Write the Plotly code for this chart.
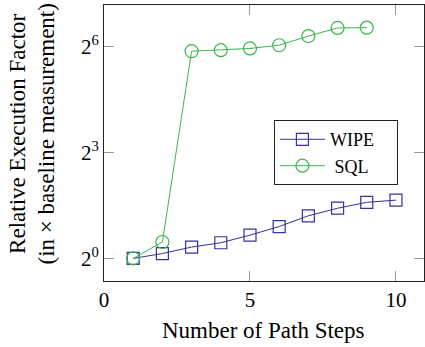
import plotly.graph_objects as go

steps_wipe = [1, 2, 3, 4, 5, 6, 7, 8, 9, 10]
wipe = [1.0, 1.10, 1.25, 1.36, 1.58, 1.87, 2.31, 2.68, 3.01, 3.14]
steps_sql = [1, 2, 3, 4, 5, 6, 7, 8, 9]
sql = [1.0, 1.38, 58.5, 59.7, 61.8, 65.8, 78.8, 92.4, 93.0]

series_names = ["WIPE\u2003", "\u2005SQL"]
y_tickvals = [1, 8, 64]
y_ticktext = ["2<sup>0</sup>", "2<sup>3</sup>", "2<sup>6</sup>"]
x_tickvals = [0, 5, 10]

FONT = "Liberation Serif"
BLUE = "#333399"
GREEN = "#3cb54a"

fig = go.Figure()
fig.add_trace(go.Scatter(
    x=steps_wipe, y=wipe, name=series_names[0], mode="lines+markers",
    line=dict(color=BLUE, width=1),
    marker=dict(symbol="square-open", size=12, color=BLUE, line=dict(width=1.2)),
))
fig.add_trace(go.Scatter(
    x=steps_sql, y=sql, name=series_names[1], mode="lines+markers",
    line=dict(color=GREEN, width=1),
    marker=dict(symbol="circle-open", size=13, color=GREEN, line=dict(width=1.2)),
))

LOG2 = 0.30103
fig.update_layout(
    width=425, height=347,
    margin=dict(l=104, r=1, t=5, b=66, autoexpand=False),
    paper_bgcolor="white", plot_bgcolor="white",
    font=dict(family=FONT, size=21, color="black"),
    showlegend=True,
    legend=dict(
        x=0.531, y=0.583, xanchor="left", yanchor="top",
        bordercolor="#222222", borderwidth=1, bgcolor="white",
        font=dict(family=FONT, size=18, color="black"),
        tracegroupgap=0, itemwidth=45,
    ),
    xaxis=dict(
        range=[0, 10.96], tickvals=x_tickvals, automargin=False,
        showgrid=False, zeroline=False,
        showline=True, linecolor="#222222", linewidth=1, mirror="ticks",
        ticks="inside", ticklen=10, tickcolor="#999999", tickwidth=1,
        tickfont=dict(family=FONT, size=21, color="black"),
    ),
    yaxis=dict(
        type="log", range=[-0.64 * LOG2, 7.18 * LOG2], automargin=False,
        tickvals=y_tickvals, ticktext=y_ticktext,
        showgrid=False, zeroline=False,
        showline=True, linecolor="#222222", linewidth=1, mirror="ticks",
        ticks="inside", ticklen=10, tickcolor="#999999", tickwidth=1,
        tickfont=dict(family=FONT, size=21, color="black"),
    ),
    annotations=[
        dict(
            text="Relative Execution Factor<br>(in × baseline measurement)",
            xref="paper", yref="paper", x=(31.5 - 104) / 320, y=(281 - 134) / 276,
            xanchor="center", yanchor="middle", textangle=-90, showarrow=False,
            font=dict(family=FONT, size=23, color="black"),
        ),
        dict(
            text="Number of Path Steps",
            xref="paper", yref="paper", x=(263 - 104) / 320, y=(281 - 330) / 276,
            xanchor="center", yanchor="middle", showarrow=False,
            font=dict(family=FONT, size=23, color="black"),
        ),
    ],
)

fig.write_html(
    "out.html",
    config={"displayModeBar": False},
    post_script="document.body.style.margin='0';document.body.style.padding='0';",
)
